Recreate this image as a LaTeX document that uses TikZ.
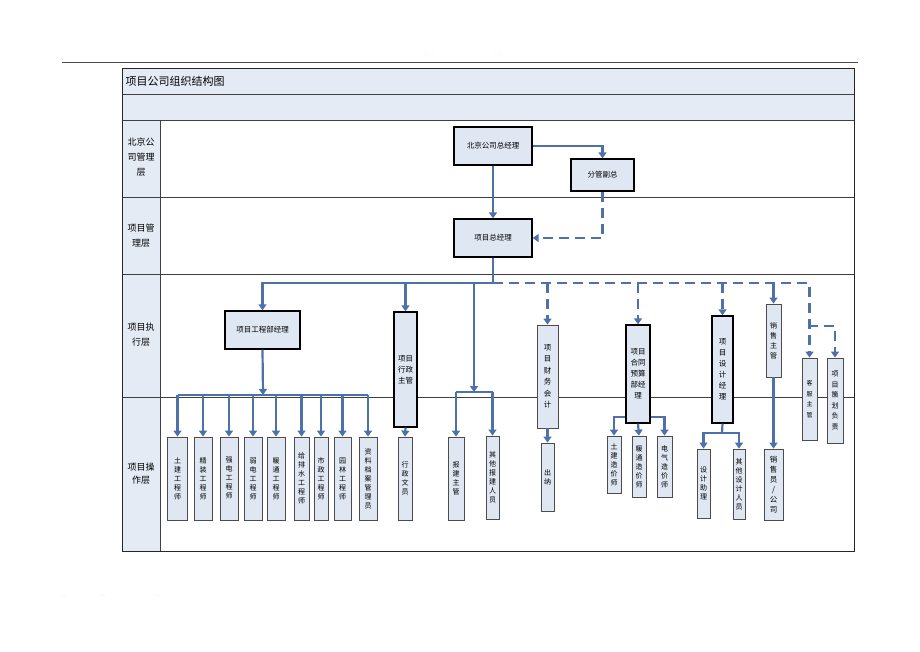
\documentclass[tikz,border=0pt]{standalone}
\usepackage{fontspec}
\newfontfamily\cjk{Noto Sans CJK SC}
\usepackage{tikz}
\usetikzlibrary{arrows.meta}
\definecolor{cellblue}{RGB}{229,235,245}
\definecolor{boxblue}{RGB}{223,231,243}
\definecolor{linkblue}{RGB}{79,113,170}
\tikzstyle{link} = [linkblue,line width=2.2pt]
\tikzstyle{arrow} = [link,-{Triangle[length=6pt,width=8pt]}]
\tikzstyle{dasharrow} = [arrow,dash pattern=on 10pt off 6pt]
\tikzstyle{hbox} = [draw=black,line width=1.3pt,fill=boxblue,inner sep=0pt,font=\cjk\fontsize{7.5}{9}\selectfont]
\tikzstyle{vbox} = [draw=black!70,line width=0.8pt,fill=boxblue,inner sep=0pt,align=center,font=\cjk\fontsize{7}{9}\selectfont]
\tikzstyle{vboxk} = [vbox,draw=black,line width=1.3pt,font=\cjk\fontsize{7.5}{11}\selectfont]
\tikzstyle{layer} = [align=center,font=\cjk\fontsize{9}{15}\selectfont]

\begin{document}
\begin{tikzpicture}[x=1pt,y=-1pt]
\useasboundingbox (0,0) rectangle (920,651);

% page header and footer
\draw[black!70,line width=0.6pt] (62,62) -- (858,62);
\node[font=\tiny,text=black!45] (hdl) at (430,55) {.\ \ .};
\node[font=\tiny,text=black!45] (hdr) at (497,55) {.\ .};
\node[font=\tiny,text=black!45] (ftl) at (64,596) {..};
\node[font=\tiny,text=black!45] (ftm) at (103,596) {..};
\node[font=\tiny,text=black!45] (ftr) at (157,596) {..};

% table
\fill[cellblue] (122,68) rectangle (854,120);
\fill[cellblue] (122,120) rectangle (160,551);
\draw[black!75,line width=0.6pt] (122,94) -- (854,94);
\draw[black!75,line width=0.6pt] (122,120) -- (854,120);
\draw[black!75,line width=0.6pt] (160,120) -- (160,551);
\foreach \y in {197,274,397}
{
\draw[black!75,line width=0.6pt] (122,\y) -- (854,\y);
}
\draw[black!85,line width=1pt] (122,68) rectangle (854,551);
\node[anchor=west,font=\cjk\fontsize{11}{13}\selectfont] (title) at (122,81) {项目公司组织结构图};

\node[layer] (lyrbj) at (141,157) {北京公\\司管理\\层};
\node[layer] (lyrxm) at (141,235.5) {项目管\\理层};
\node[layer] (lyrzx) at (141,335) {项目执\\行层};
\node[layer,font=\cjk\fontsize{9}{13}\selectfont] (lyrcz) at (141,474) {项目操\\作层};

% management
\node[hbox,minimum width=78pt,minimum height=38pt] (bjzjl) at (493,146) {北京公司总经理};
\node[hbox,minimum width=63pt,minimum height=32pt] (fgfz) at (602.5,175) {分管副总};
\node[hbox,minimum width=78pt,minimum height=38pt] (xmzjl) at (493,238) {项目总经理};

% execution
\node[hbox,minimum width=75pt,minimum height=38pt] (gcbjl) at (262.5,330) {项目工程部经理};
\node[vboxk,minimum width=23pt,minimum height=115pt] (xzzg) at (405.5,369.5) {项目\\行政\\主管};
\node[vbox,minimum width=21pt,minimum height=103pt,font=\cjk\fontsize{7.5}{11.5}\selectfont] (cwkj) at (547.5,376.5) {项\\目\\财\\务\\会\\计};
\node[vboxk,minimum width=24pt,minimum height=98pt] (htys) at (638,374) {项目\\合同\\预算\\部经\\理};
\node[vboxk,minimum width=21pt,minimum height=107pt] (sjjl) at (722.5,369.5) {项\\目\\设\\计\\经\\理};
\node[vbox,minimum width=15pt,minimum height=73pt,font=\cjk\fontsize{7}{10}\selectfont] (xszg) at (773.5,340.5) {销\\售\\主\\管};
\node[vbox,minimum width=15pt,minimum height=82pt,font=\cjk\fontsize{6}{10.5}\selectfont] (kfzg) at (809.5,399) {客\\服\\主\\管};
\node[vbox,minimum width=16pt,minimum height=85pt,font=\cjk\fontsize{7}{10.5}\selectfont] (chfz) at (835,400.5) {项\\目\\策\\划\\负\\责};

% operation
\foreach \x/\w/\t [count=\i] in {177.5/20/土\\建\\工\\程\\师, 203/18/精\\装\\工\\程\\师,
  229/18/强\\电\\工\\程\\师, 253/18/弱\\电\\工\\程\\师, 276/18/暖\\通\\工\\程\\师,
  301.5/15/给\\排\\水\\工\\程\\师, 321/14/市\\政\\工\\程\\师, 342.5/17/园\\林\\工\\程\\师,
  368/18/资\\料\\档\\案\\管\\理\\员}
{
\node[vbox,minimum width=\w pt,minimum height=83pt] (gcs\i) at (\x,478.5) {\t};
}
\node[vbox,minimum width=14pt,minimum height=83pt] (xzwy) at (405,478.5) {行\\政\\文\\员};
\node[vbox,minimum width=16pt,minimum height=83pt] (bjzg) at (456,478.5) {报\\建\\主\\管};
\node[vbox,minimum width=13pt,minimum height=83pt] (qtbj) at (492.5,477.5) {其\\他\\报\\建\\人\\员};
\node[vbox,minimum width=13pt,minimum height=68pt] (cn) at (547.5,477) {出\\纳};
\node[vbox,minimum width=14pt,minimum height=57pt] (tjzj) at (614,464.5) {土\\建\\造\\价\\师};
\node[vbox,minimum width=14pt,minimum height=61pt] (ntzj) at (639,466.5) {暖\\通\\造\\价\\师};
\node[vbox,minimum width=15pt,minimum height=61pt] (dqzj) at (664.5,466.5) {电\\气\\造\\价\\师};
\node[vbox,minimum width=13pt,minimum height=69pt] (sjzl) at (703.5,483.5) {设\\计\\助\\理};
\node[vbox,minimum width=12pt,minimum height=70pt] (qtsj) at (739,484) {其\\他\\设\\计\\人\\员};
\node[vbox,minimum width=19pt,minimum height=71pt,font=\cjk\fontsize{7.5}{10}\selectfont] (xsy) at (773.5,484.5) {销\\售\\员\\/\\公\\司};

% connectors
\coordinate (zxbus) at (493,283);
\coordinate (bjbus) at (474,392);
\coordinate (gcbus) at (263,395);
\coordinate (sjbus) at (722,433);
\coordinate (chbus) at (808,326);

\draw[arrow] (bjzjl.east) -| (fgfz.north);
\draw[arrow] (bjzjl.south) -- (xmzjl.north);
\draw[dasharrow] (fgfz.south) |- (xmzjl.east);

\draw[link] (xmzjl.south) -- (zxbus);
\draw[arrow] (zxbus) -| (gcbjl.north);
\draw[arrow] (xzzg.north |- zxbus) -- (xzzg.north);
\draw[arrow] (bjbus |- zxbus) -- (bjbus);
\draw[dasharrow] (zxbus) -| (kfzg.north);
\draw[dasharrow] (cwkj.north |- zxbus) -- (cwkj.north);
\draw[dasharrow] (htys.north |- zxbus) -- (htys.north);
\draw[dasharrow] (sjjl.north |- zxbus) -- (sjjl.north);
\draw[arrow] (xszg.north |- zxbus) -- (xszg.north);
\draw[dasharrow] (chbus) -| (chfz.north);

\draw[arrow] (gcbjl.south) -- (gcbus);
\draw[link] (gcs1.north |- gcbus) -- (gcs9.north |- gcbus);
\foreach \i in {1,...,9}
{
\draw[arrow] (gcs\i.north |- gcbus) -- (gcs\i.north);
}
\draw[arrow] (xzzg.south) -- (xzwy.north);
\draw[link] (bjzg.north |- bjbus) -- (qtbj.north |- bjbus);
\draw[arrow] (bjzg.north |- bjbus) -- (bjzg.north);
\draw[arrow] (qtbj.north |- bjbus) -- (qtbj.north);
\draw[arrow] (cwkj.south) -- (cn.north);
\draw[arrow] ([yshift=7pt]htys.south west) -| (tjzj.north);
\draw[arrow] (htys.south) -- (ntzj.north);
\draw[arrow] ([yshift=7pt]htys.south east) -| (dqzj.north);
\draw[link] (sjjl.south) -- (sjbus);
\draw[arrow] (sjbus) -| (sjzl.north);
\draw[arrow] (sjbus) -| (qtsj.north);
\draw[arrow] (xszg.south) -- (xsy.north);
\end{tikzpicture}
\end{document}
